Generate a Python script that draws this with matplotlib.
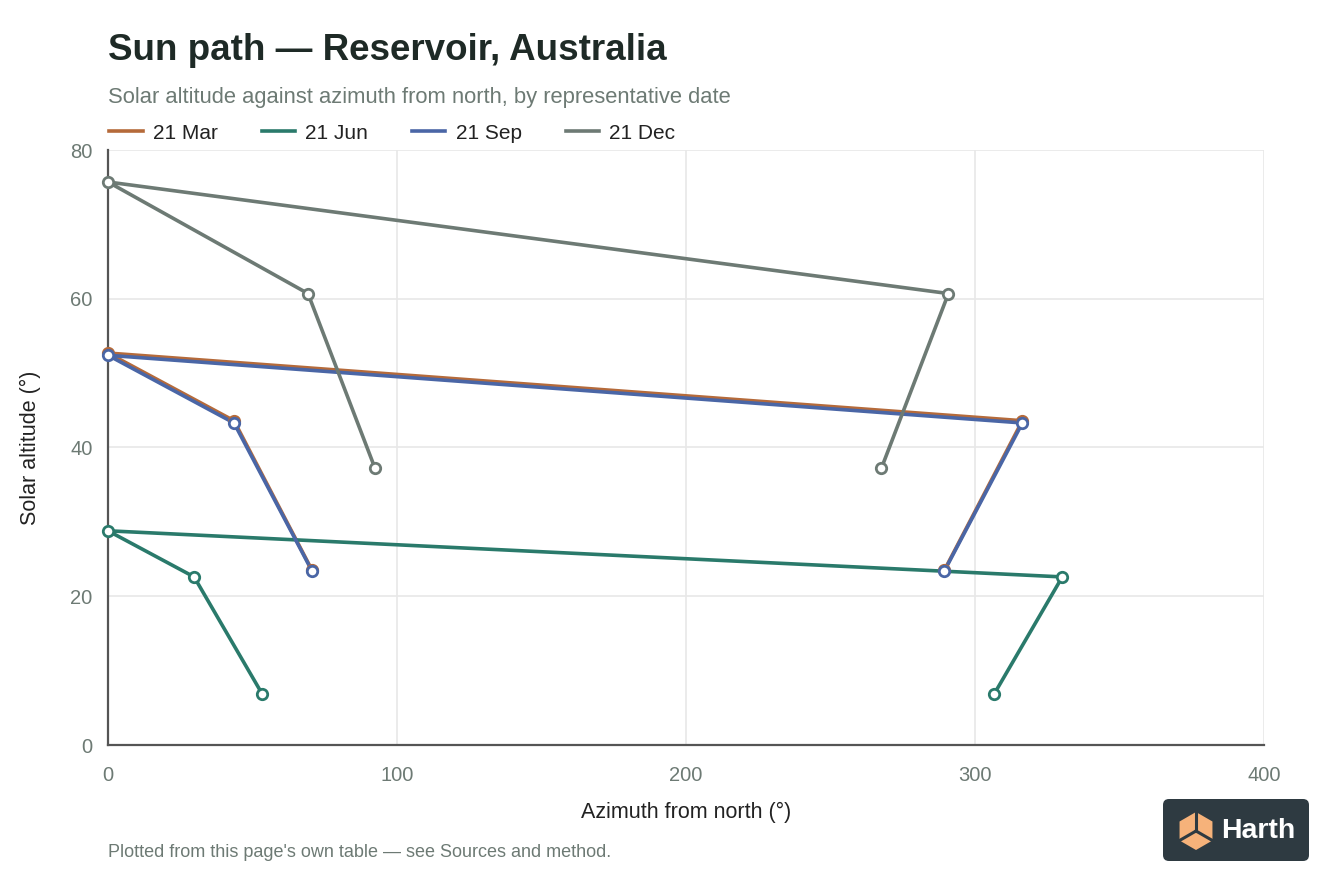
import numpy as np
import matplotlib.pyplot as plt
from matplotlib.patches import FancyBboxPatch, Polygon

plt.rcParams['font.family'] = ['Liberation Sans', 'DejaVu Sans']

# sun positions, morning -> noon -> afternoon
dates = ['21 Mar', '21 Jun', '21 Sep', '21 Dec']
az_mar = [70.6, 43.6, 0, 316.4, 289.4]
alt_mar = [23.5, 43.6, 52.7, 43.6, 23.5]
az_jun = [53.3, 29.8, 0, 330.2, 306.7]
alt_jun = [6.9, 22.6, 28.8, 22.6, 6.9]
az_sep = [70.6, 43.6, 0, 316.4, 289.4]
alt_sep = [23.4, 43.3, 52.4, 43.3, 23.4]
az_dec = [92.4, 69.2, 0, 290.8, 267.6]
alt_dec = [37.2, 60.7, 75.7, 60.7, 37.2]

colors = ['#b56a3a', '#2a7a6b', '#4a66a6', '#6d7a74']
series = [(az_mar, alt_mar), (az_jun, alt_jun), (az_sep, alt_sep), (az_dec, alt_dec)]

fig = plt.figure(figsize=(13.44, 8.96), dpi=100)
ax = fig.add_axes([108/1344, 151/896, 1156/1344, 595/896])

for (az, alt), c, lab in zip(series, colors, dates):
    ax.plot(az, alt, color=c, lw=2.6, label=lab, zorder=3, clip_on=False)
    ax.plot(az, alt, ls='none', marker='o', ms=7.5, mfc='white', mec=c, mew=2,
            zorder=4, clip_on=False)

ax.set_xlim(0, 400)
ax.set_ylim(0, 80)
ax.set_xticks([0, 100, 200, 300, 400])
ax.set_yticks([0, 20, 40, 60, 80])
ax.grid(True, color='#e8e8e8', lw=1.2, zorder=0)
ax.set_axisbelow(True)
for s in ['top', 'right']:
    ax.spines[s].set_visible(False)
for s in ['left', 'bottom']:
    ax.spines[s].set_color('#555555')
    ax.spines[s].set_linewidth(1.6)
    ax.spines[s].set_zorder(2.5)
ax.tick_params(length=0, labelsize=14.5, labelcolor='#6d7a74')
ax.tick_params(axis='x', pad=15)
ax.tick_params(axis='y', pad=11)
ax.set_xlabel('Azimuth from north (°)', fontsize=15.5, color='#222222', labelpad=12)
ax.set_ylabel('Solar altitude (°)', fontsize=15.5, color='#222222', labelpad=21)

leg = ax.legend(loc='lower left', bbox_to_anchor=(-0.0088, 0.993), ncol=4, frameon=False,
                fontsize=15, handlelength=1.6, handletextpad=0.5, columnspacing=2.1,
                borderaxespad=0.15)
for t in leg.get_texts():
    t.set_color('#222222')

fig.text(108/1344, 1 - 51/896, 'Sun path — Reservoir, Australia', fontsize=26.5,
         fontweight='bold', color='#1e2a26', va='center', ha='left')
fig.text(108/1344, 1 - 97/896, 'Solar altitude against azimuth from north, by representative date',
         fontsize=15.8, color='#6d7a74', va='center', ha='left')
fig.text(108/1344, 1 - 852/896, "Plotted from this page's own table — see Sources and method.",
         fontsize=13, color='#6d7a74', va='center', ha='left')

# logo badge
ov = fig.add_axes([0, 0, 1, 1], zorder=10)
ov.set_xlim(0, 1344)
ov.set_ylim(896, 0)
ov.axis('off')
ov.add_patch(FancyBboxPatch((1163, 799), 146, 62, boxstyle='round,pad=0,rounding_size=6',
                            fc='#2e3a41', ec='none'))
cx, cy, r = 1196, 831, 19
ang = np.deg2rad([90, 30, -30, -90, -150, 150])
hx = cx + r * np.cos(ang)
hy = cy - r * np.sin(ang)
ov.add_patch(Polygon(np.column_stack([hx, hy]), closed=True, fc='#f6b27a', ec='none'))
for k in [0, 2, 4]:
    ov.plot([cx, hx[k]], [cy, hy[k]], color='#2e3a41', lw=2.2)
ov.text(1221, 831, 'Harth', fontsize=20.5, fontweight='bold', color='white',
        va='center', ha='left')

fig.savefig('out.png', dpi=100, facecolor='white')
